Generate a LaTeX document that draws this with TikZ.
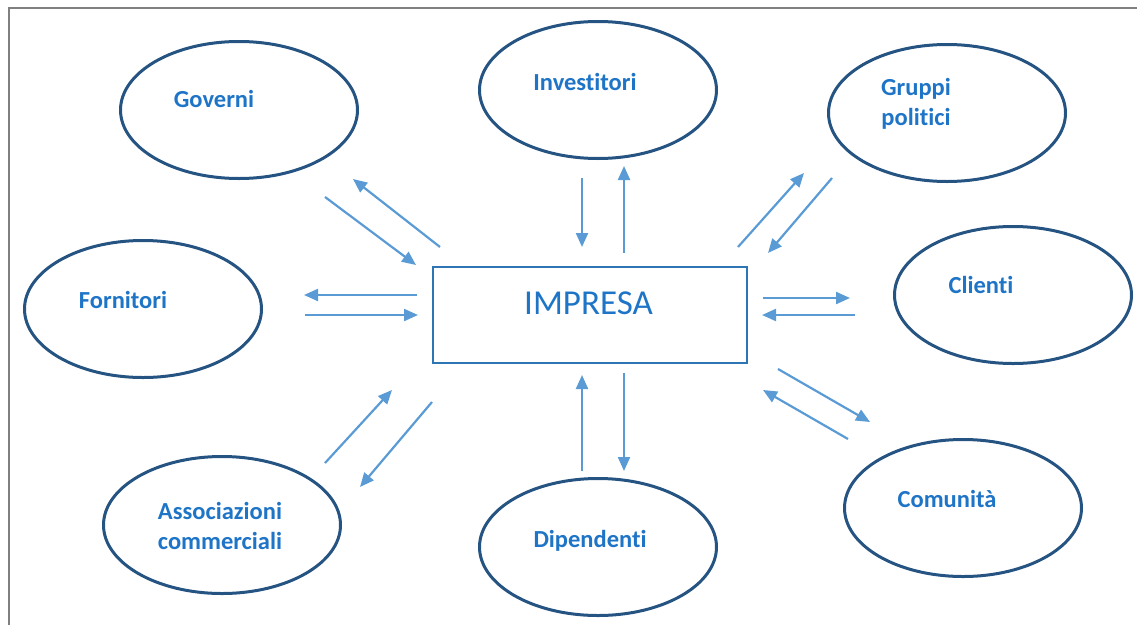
\documentclass[tikz,border=0pt]{standalone}
\usepackage{fontspec}
\setmainfont[Ligatures=NoCommon]{Carlito}
\usetikzlibrary{arrows.meta,shapes.geometric}
\definecolor{ringblue}{RGB}{38,84,130}
\definecolor{labelblue}{RGB}{30,116,198}
\definecolor{boxblue}{RGB}{46,117,182}
\definecolor{flowblue}{RGB}{91,155,213}
\definecolor{framegrey}{RGB}{128,128,128}
\begin{document}
\begin{tikzpicture}[x=1pt,y=-1pt,
  party/.style={ellipse, draw=ringblue, line width=3pt,
    minimum width=237pt, minimum height=137pt, inner sep=0pt},
  partytext/.style={text=labelblue, anchor=base, align=center, inner sep=0pt,
    font=\bfseries\fontsize{24.5}{30}\selectfont},
  firm/.style={rectangle, draw=boxblue, line width=2pt,
    minimum width=314pt, minimum height=96pt, inner sep=0pt},
  firmtext/.style={text=labelblue, anchor=base, inner sep=0pt,
    font=\fontsize{35}{40}\selectfont},
  flow/.style={draw=flowblue, line width=2.2pt,
    -{Triangle[length=14pt,width=12pt]}}
]
\useasboundingbox (0,0) rectangle (1137,624);

% outer frame (top and left edges)
\draw[framegrey, line width=2.5pt] (1140,8) -- (9,8) -- (9,630);

% central company box
\node[firm] (imp) at (589.5,314.5) {};
\node[firmtext] (impt) at (588.5,314) {IMPRESA};

% stakeholder ellipses
\node[party] (gov) at (239,110) {};
\node[party] (inv) at (598,90) {};
\node[party] (gru) at (947,113) {};
\node[party] (for) at (143,309) {};
\node[party] (cli) at (1013,295) {};
\node[party] (ass) at (222,525) {};
\node[party] (dip) at (598,547) {};
\node[party] (com) at (963,508) {};

% stakeholder labels (base anchor sits on the last line)
\node[partytext] (govt) at (214,107) {Governi};
\node[partytext] (invt) at (585,90) {Investitori};
\node[partytext] (grut) at (916,125) {Gruppi\\politici};
\node[partytext] (fort) at (123,308) {Fornitori};
\node[partytext] (clit) at (981,293) {Clienti};
\node[partytext] (asst) at (220,549) {Associazioni\\commerciali};
\node[partytext] (dipt) at (590,547) {Dipendenti};
\node[partytext] (comt) at (947,507) {Comunità};

% arrow end points
\coordinate (g1) at (325,197); \coordinate (g2) at (416,265);
\coordinate (g3) at (440,247); \coordinate (g4) at (353,179);
\coordinate (i1) at (582,178); \coordinate (i2) at (582,247);
\coordinate (i3) at (624,253); \coordinate (i4) at (624,166);
\coordinate (p1) at (738,247); \coordinate (p2) at (804,173);
\coordinate (p3) at (832,178); \coordinate (p4) at (768,253);
\coordinate (f1) at (417,295); \coordinate (f2) at (304,295);
\coordinate (f3) at (305,315); \coordinate (f4) at (418,315);
\coordinate (c1) at (763,298); \coordinate (c2) at (850,298);
\coordinate (c3) at (855,315); \coordinate (c4) at (762,315);
\coordinate (a1) at (325,463); \coordinate (a2) at (392,390);
\coordinate (a3) at (432,402); \coordinate (a4) at (360,487);
\coordinate (d1) at (582,471); \coordinate (d2) at (582,375);
\coordinate (d3) at (624,373); \coordinate (d4) at (624,471);
\coordinate (m1) at (778,369); \coordinate (m2) at (870,422);
\coordinate (m3) at (848,439); \coordinate (m4) at (763,390);

% two-way relations
\draw[flow] (g1) -- (g2);
\draw[flow] (g3) -- (g4);
\draw[flow] (i1) -- (i2);
\draw[flow] (i3) -- (i4);
\draw[flow] (p1) -- (p2);
\draw[flow] (p3) -- (p4);
\draw[flow] (f1) -- (f2);
\draw[flow] (f3) -- (f4);
\draw[flow] (c1) -- (c2);
\draw[flow] (c3) -- (c4);
\draw[flow] (a1) -- (a2);
\draw[flow] (a3) -- (a4);
\draw[flow] (d1) -- (d2);
\draw[flow] (d3) -- (d4);
\draw[flow] (m1) -- (m2);
\draw[flow] (m3) -- (m4);
\end{tikzpicture}
\end{document}
